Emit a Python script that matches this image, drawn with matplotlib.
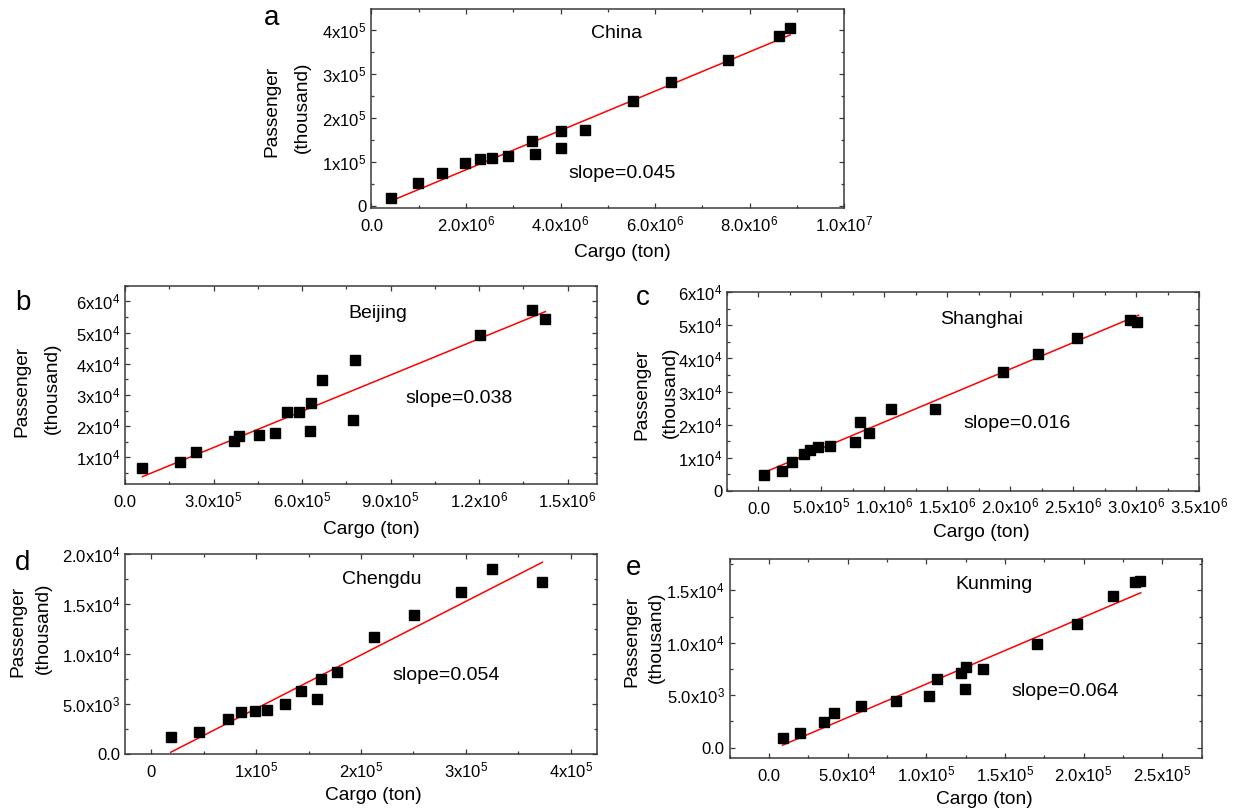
import matplotlib
matplotlib.use("Agg")
import matplotlib.pyplot as plt
import numpy as np

plt.rcParams['font.family'] = ['Liberation Sans', 'DejaVu Sans']
plt.rcParams['mathtext.default'] = 'regular'

# ---------------- data ----------------
# a: China
china_x = [0.42e6, 0.99e6, 1.50e6, 1.97e6, 2.29e6, 2.56e6, 2.89e6, 3.40e6, 3.47e6,
           4.00e6, 4.02e6, 4.51e6, 5.53e6, 6.34e6, 7.54e6, 8.63e6, 8.86e6]
china_y = [0.19e5, 0.52e5, 0.76e5, 0.99e5, 1.08e5, 1.10e5, 1.13e5, 1.48e5, 1.18e5,
           1.33e5, 1.70e5, 1.73e5, 2.40e5, 2.83e5, 3.31e5, 3.87e5, 4.04e5]
china_fit_x = [0.42e6, 8.86e6]
china_fit_y = [0.12e5, 3.89e5]

# b: Beijing
beijing_x = [0.59e5, 1.86e5, 2.40e5, 3.70e5, 3.87e5, 4.55e5, 5.10e5, 5.50e5, 5.90e5,
             6.28e5, 6.29e5, 6.68e5, 7.73e5, 7.79e5, 1.204e6, 1.380e6, 1.423e6]
beijing_y = [0.65e4, 0.86e4, 1.18e4, 1.52e4, 1.68e4, 1.72e4, 1.77e4, 2.44e4, 2.44e4,
             1.84e4, 2.73e4, 3.49e4, 2.19e4, 4.11e4, 4.91e4, 5.72e4, 5.42e4]
beijing_fit_x = [0.59e5, 1.425e6]
beijing_fit_y = [0.38e4, 5.67e4]

# c: Shanghai
shanghai_x = [0.44e5, 1.86e5, 2.70e5, 3.65e5, 4.12e5, 4.75e5, 5.69e5, 7.64e5, 8.05e5,
              8.81e5, 1.05e6, 1.40e6, 1.94e6, 2.22e6, 2.53e6, 2.95e6, 3.01e6]
shanghai_y = [0.49e4, 0.60e4, 0.88e4, 1.11e4, 1.23e4, 1.31e4, 1.36e4, 1.46e4, 2.07e4,
              1.75e4, 2.47e4, 2.47e4, 3.58e4, 4.15e4, 4.63e4, 5.16e4, 5.11e4]
shanghai_fit_x = [0.44e5, 3.02e6]
shanghai_fit_y = [0.55e4, 5.31e4]

# d: Chengdu
chengdu_x = [0.185e5, 0.46e5, 0.73e5, 0.855e5, 0.99e5, 1.10e5, 1.277e5, 1.427e5,
             1.582e5, 1.62e5, 1.77e5, 2.128e5, 2.505e5, 2.95e5, 3.25e5, 3.729e5]
chengdu_y = [1670, 2240, 3500, 4170, 4330, 4400, 5020, 6290,
             5520, 7560, 8230, 11710, 13880, 16250, 18560, 17260]
chengdu_fit_x = [0.185e5, 3.729e5]
chengdu_fit_y = [170, 19200]

# e: Kunming
kunming_x = [8700, 19700, 35100, 41700, 58300, 80600, 101600, 107200, 122100,
             125400, 124600, 136400, 170400, 196000, 218500, 232600, 235900]
kunming_y = [955, 1430, 2390, 3340, 4010, 4460, 4940, 6500, 7070,
             7680, 5570, 7450, 9840, 11820, 14430, 15760, 15890]
kunming_fit_x = [8700, 236400]
kunming_fit_y = [220, 14780]

# ticks
a_xticks = [0, 2e6, 4e6, 6e6, 8e6, 1e7]
a_xlabels = ['0.0', '2.0x10$^6$', '4.0x10$^6$', '6.0x10$^6$', '8.0x10$^6$', '1.0x10$^7$']
a_yticks = [0, 1e5, 2e5, 3e5, 4e5]
a_ylabels = ['0', '1x10$^5$', '2x10$^5$', '3x10$^5$', '4x10$^5$']

b_xticks = [0, 3e5, 6e5, 9e5, 1.2e6, 1.5e6]
b_xlabels = ['0.0', '3.0x10$^5$', '6.0x10$^5$', '9.0x10$^5$', '1.2x10$^6$', '1.5x10$^6$']
b_yticks = [1e4, 2e4, 3e4, 4e4, 5e4, 6e4]
b_ylabels = ['1x10$^4$', '2x10$^4$', '3x10$^4$', '4x10$^4$', '5x10$^4$', '6x10$^4$']

c_xticks = [0, 5e5, 1e6, 1.5e6, 2e6, 2.5e6, 3e6, 3.5e6]
c_xlabels = ['0.0', '5.0x10$^5$', '1.0x10$^6$', '1.5x10$^6$', '2.0x10$^6$',
             '2.5x10$^6$', '3.0x10$^6$', '3.5x10$^6$']
c_yticks = [0, 1e4, 2e4, 3e4, 4e4, 5e4, 6e4]
c_ylabels = ['0', '1x10$^4$', '2x10$^4$', '3x10$^4$', '4x10$^4$', '5x10$^4$', '6x10$^4$']

d_xticks = [0, 1e5, 2e5, 3e5, 4e5]
d_xlabels = ['0', '1x10$^5$', '2x10$^5$', '3x10$^5$', '4x10$^5$']
d_yticks = [0, 5e3, 1e4, 1.5e4, 2e4]
d_ylabels = ['0.0', '5.0x10$^3$', '1.0x10$^4$', '1.5x10$^4$', '2.0x10$^4$']

e_xticks = [0, 5e4, 1e5, 1.5e5, 2e5, 2.5e5]
e_xlabels = ['0.0', '5.0x10$^4$', '1.0x10$^5$', '1.5x10$^5$', '2.0x10$^5$', '2.5x10$^5$']
e_yticks = [0, 5e3, 1e4, 1.5e4]
e_ylabels = ['0.0', '5.0x10$^3$', '1.0x10$^4$', '1.5x10$^4$']

region_names = ['China', 'Beijing', 'Shanghai', 'Chengdu', 'Kunming']
slope_texts = ['slope=0.045', 'slope=0.038', 'slope=0.016', 'slope=0.054', 'slope=0.064']
panel_letters = ['a', 'b', 'c', 'd', 'e']

# ---------------- figure ----------------
W, H = 1241, 811
fig = plt.figure(figsize=(W / 100, H / 100), dpi=100)
fig.patch.set_facecolor('white')

def fx(x):
    return x / W

def fy(y):
    return 1 - y / H

def make_axes(l, t, r, b):
    return fig.add_axes([l / W, 1 - b / H, (r - l) / W, (b - t) / H])

SPINE = '#3a3a3a'

panels = [
    dict(box=(371.5, 9, 844, 208.3), x=china_x, y=china_y, fx_=china_fit_x, fy_=china_fit_y,
         xlim=(0, 1e7), ylim=(-5000, 4.48e5), xt=a_xticks, xl=a_xlabels, yt=a_yticks, yl=a_ylabels,
         xminor=1e6, yminor=0.5e5,
         name=(617, 33), slope=(622, 174), letter=(272, 25),
         pas=(272, 111), tho=(302, 107.5), cargo=(622, 252.5)),
    dict(box=(125, 285.7, 597, 484), x=beijing_x, y=beijing_y, fx_=beijing_fit_x, fy_=beijing_fit_y,
         xlim=(0, 1.6e6), ylim=(1450, 65000), xt=b_xticks, xl=b_xlabels, yt=b_yticks, yl=b_ylabels,
         xminor=1.5e5, yminor=0.5e4,
         name=(377.6, 313.3), slope=(458.7, 398.3), letter=(23, 310),
         pas=(21.7, 391), tho=(52.4, 388), cargo=(371.4, 529)),
    dict(box=(727, 291.7, 1199, 490.7), x=shanghai_x, y=shanghai_y, fx_=shanghai_fit_x, fy_=shanghai_fit_y,
         xlim=(-2.5e5, 3.5e6), ylim=(0, 6.02e4), xt=c_xticks, xl=c_xlabels, yt=c_yticks, yl=c_ylabels,
         xminor=2.5e5, yminor=0.5e4,
         name=(982, 320), slope=(1016.8, 423.3), letter=(643, 305),
         pas=(641.8, 394), tho=(670, 392), cargo=(981, 532.5)),
    dict(box=(125, 554.3, 597, 754), x=chengdu_x, y=chengdu_y, fx_=chengdu_fit_x, fy_=chengdu_fit_y,
         xlim=(-2.5e4, 4.25e5), ylim=(0, 2.0e4), xt=d_xticks, xl=d_xlabels, yt=d_yticks, yl=d_ylabels,
         xminor=0.5e5, yminor=2.5e3,
         name=(381.6, 579.3), slope=(445.6, 675), letter=(22.3, 570),
         pas=(17.8, 631), tho=(43.5, 628), cargo=(373.7, 795.5)),
    dict(box=(729.5, 559, 1201.5, 758), x=kunming_x, y=kunming_y, fx_=kunming_fit_x, fy_=kunming_fit_y,
         xlim=(-2.5e4, 2.75e5), ylim=(-1000, 18000), xt=e_xticks, xl=e_xlabels, yt=e_yticks, yl=e_ylabels,
         xminor=2.5e4, yminor=2.5e3,
         name=(994.3, 584.3), slope=(1065.5, 691), letter=(634, 575),
         pas=(632, 641), tho=(656, 637.5), cargo=(984, 800)),
]

for i, p in enumerate(panels):
    ax = make_axes(*p['box'])
    ax.plot(p['fx_'], p['fy_'], color='#ff0000', lw=1.1, zorder=2)
    ax.plot(p['x'], p['y'], 's', color='black', ms=6.6, mec='black', zorder=3, clip_on=False)
    ax.set_xlim(*p['xlim'])
    ax.set_ylim(*p['ylim'])
    ax.set_xticks(p['xt'])
    ax.set_xticklabels(p['xl'])
    ax.set_yticks(p['yt'])
    ax.set_yticklabels(p['yl'])
    ax.xaxis.set_minor_locator(matplotlib.ticker.MultipleLocator(p['xminor']))
    ax.yaxis.set_minor_locator(matplotlib.ticker.MultipleLocator(p['yminor']))
    ax.tick_params(which='both', direction='in', top=True, right=True, color=SPINE, width=0.9)
    ax.tick_params(which='major', length=3.6)
    ax.tick_params(which='minor', length=2.1)
    ax.tick_params(axis='x', labelsize=12, pad=16.5)
    ax.tick_params(axis='y', labelsize=12, pad=3.5)
    for lbl in ax.get_xticklabels():
        lbl.set_verticalalignment('baseline')
    for s in ax.spines.values():
        s.set_color(SPINE)
        s.set_linewidth(1.1)

    fig.text(fx(p['name'][0]), fy(p['name'][1]), region_names[i], fontsize=14,
             ha='center', va='center')
    fig.text(fx(p['slope'][0]), fy(p['slope'][1]), slope_texts[i], fontsize=14,
             ha='center', va='center')
    fig.text(fx(p['letter'][0]), fy(p['letter'][1]), panel_letters[i], fontsize=20,
             ha='center', va='baseline')
    fig.text(fx(p['pas'][0]), fy(p['pas'][1]), 'Passenger', fontsize=13.8,
             rotation=90, ha='center', va='center')
    fig.text(fx(p['tho'][0]), fy(p['tho'][1]), '(thousand)', fontsize=13.8,
             rotation=90, ha='center', va='center')
    fig.text(fx(p['cargo'][0]), fy(p['cargo'][1]), 'Cargo (ton)', fontsize=13.8,
             ha='center', va='center')

fig.savefig('out.png', dpi=100, facecolor='white')
